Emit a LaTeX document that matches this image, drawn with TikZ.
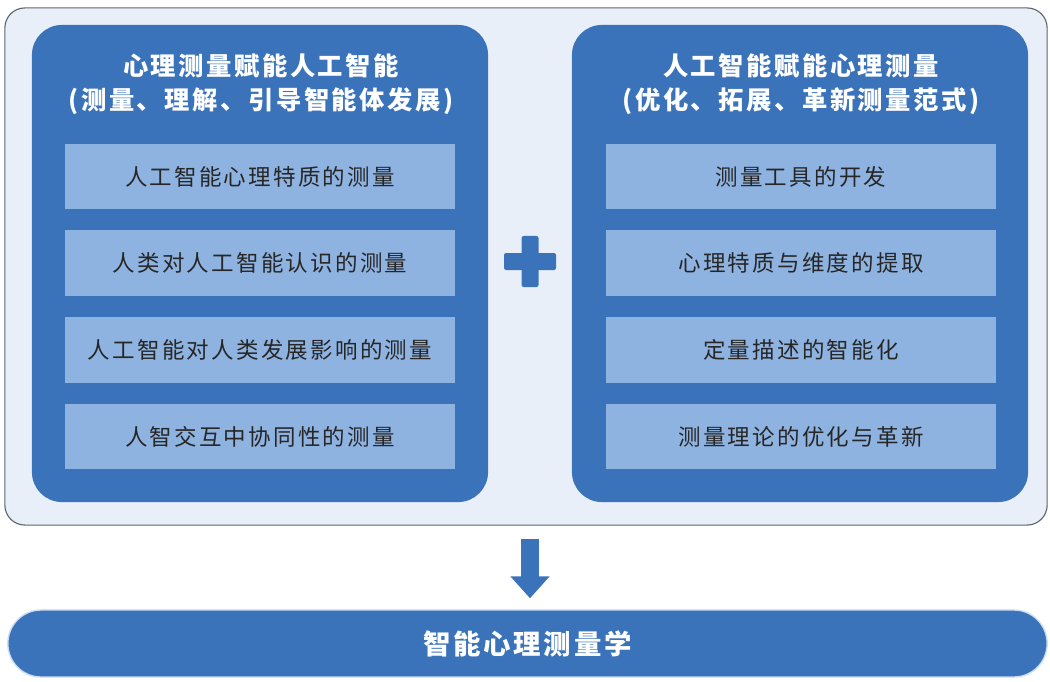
\documentclass[tikz,border=0pt]{standalone}
\usepackage{fontspec}
\newfontfamily\cjk[LetterSpace=10]{Noto Sans CJK SC}
\usetikzlibrary{arrows.meta}
\definecolor{panelblue}{HTML}{3A73B9}
\definecolor{itemblue}{HTML}{8FB3E0}
\definecolor{backblue}{HTML}{E8EFF8}
\definecolor{edgegrey}{HTML}{5E6670}
\tikzset{
  panel/.style={fill=panelblue, rounded corners=0.75cm, minimum width=11.4cm, minimum height=11.925cm},
  item/.style={fill=itemblue, minimum width=9.75cm, minimum height=1.625cm, text=black!85,
    font=\cjk\fontsize{16}{20}\selectfont},
  heading/.style={text=white, align=center, font=\cjk\bfseries\fontsize{18}{24.5}\selectfont},
  fatarrow/.style={draw=panelblue, line width=0.45cm, -{Triangle[width=0.95cm, length=0.55cm]}}
}
\begin{document}
\begin{tikzpicture}[x=0.025cm, y=-0.025cm]
    \useasboundingbox (0,0) rectangle (1050,682);

    %%outer frame
    \node[draw=edgegrey, line width=0.8pt, fill=backblue, rounded corners=0.5cm,
          minimum width=26.05cm, minimum height=12.925cm] (outer) at (526,266.5) {};

    %%L
    \node[panel] (lpanel) at (260,263.5) {};
    \node[heading] (ltitle) at (261,84) {心理测量赋能人工智能\\(测量、理解、引导智能体发展)};
        \node[item] (l1) at (260,176.5) {人工智能心理特质的测量};
        \node[item] (l2) at (260,263) {人类对人工智能认识的测量};
        \node[item] (l3) at (260,350) {人工智能对人类发展影响的测量};
        \node[item] (l4) at (260,436.5) {人智交互中协同性的测量};

    %%R
    \node[panel] (rpanel) at (800,263.5) {};
    \node[heading] (rtitle) at (801,84) {人工智能赋能心理测量\\(优化、拓展、革新测量范式)};
        \node[item] (r1) at (801,176.5) {测量工具的开发};
        \node[item] (r2) at (801,263) {心理特质与维度的提取};
        \node[item] (r3) at (801,350) {定量描述的智能化};
        \node[item] (r4) at (801,436.5) {测量理论的优化与革新};

    %%plus
    \coordinate (plus) at (530,261.5);
        \fill[panelblue, rounded corners=1.5pt] (504,253) rectangle (556,270);
        \fill[panelblue, rounded corners=1.5pt] (521.5,236) rectangle (538.5,287);

    %%bottom
    \node[fill=panelblue, draw=itemblue!45, line width=1pt, rounded corners=0.83cm,
          minimum width=25.975cm, minimum height=1.675cm, text=white,
          font=\cjk\bfseries\fontsize{19.5}{24}\selectfont] (bar) at (527.5,643.5) {智能心理测量学};

        \draw[fatarrow, shorten <=0.325cm, shorten >=0.275cm] (plus |- outer.south) -- (plus |- bar.north);

\end{tikzpicture}
\end{document}
